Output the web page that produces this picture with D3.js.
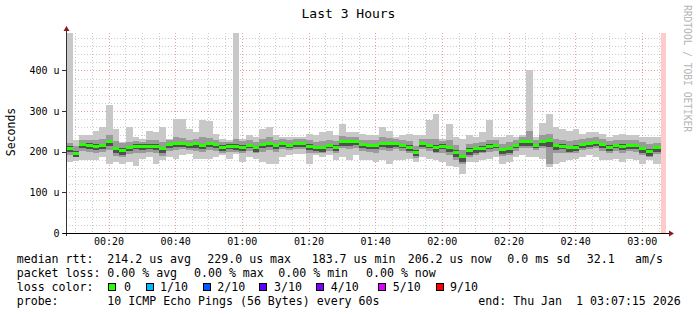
<!DOCTYPE html>
<html><head><meta charset="utf-8">
<script src="https://cdn.jsdelivr.net/npm/d3@7"></script>
<style>
html,body{margin:0;padding:0;background:#fff}
svg{display:block}
text{font-family:"DejaVu Sans Mono",monospace}
</style>
</head><body>
<svg id="chart" width="697" height="315"></svg>
<script>
// ---- data (microseconds), one value per 2-minute step starting 00:07:15 ----
const median = [209,195,217,216,213,216,224,207,203,210, 214,213,214,214,207,217,220,220,218,219,
  216,220,217,211,214,213,211,216,210,217, 221,216,220,216,220,220,214,210,210,216,
  211,224,224,224,217,216,216,220,220,220, 216,211,199,220,216,210,214,210,199,187,
  203,207,209,214,216,205,207,216,224,224, 216,226,228,216,214,210,211,218,220,222,
  217,211,216,214,216,216,207,200,210];
const pingMax = [492,228,240,240,252,261,314,257,224,261, 236,232,252,248,261,232,280,280,257,248,
  277,275,244,232,228,492,232,240,236,257, 261,240,236,236,236,236,244,240,248,252,
  240,269,248,248,244,240,240,261,252,236, 240,244,240,240,277,293,232,269,236,232,
  240,236,248,277,236,236,240,236,240,401, 236,270,293,261,257,252,257,244,248,248,
  244,236,240,244,240,240,236,236,236];
const pingMin = [175,178,179,179,179,187,170,175,170,175, 166,183,187,170,179,187,183,191,195,183,
  183,183,187,191,183,195,175,187,183,175, 170,170,187,191,195,195,170,191,187,191,
  179,187,179,191,179,179,175,179,170,179, 179,183,175,187,183,179,175,166,162,146,
  175,175,179,183,187,170,175,187,191,187, 187,183,162,170,175,179,183,187,191,187,
  179,179,183,175,183,179,170,179,170];
const midHi = [222,214,228,230,228,232,240,226,221,225, 226,224,230,228,224,228,236,234,230,232,
  236,234,230,224,224,232,226,230,224,232, 236,230,232,230,232,232,228,224,226,230,
  226,238,236,236,230,228,228,236,234,232, 230,226,214,232,232,232,226,228,216,204,
  220,222,224,228,228,220,224,230,236,250, 228,240,244,232,230,226,228,232,234,236,
  232,226,230,228,230,230,224,218,222];
const midLo = [192,186,202,200,198,200,204,190,186,194, 196,198,200,196,190,202,204,206,204,202,
  200,204,202,198,200,200,196,202,196,200, 204,200,206,204,206,206,198,198,196,202,
  196,208,206,208,202,200,198,204,202,206, 202,198,184,206,202,196,198,192,180,170,
  188,192,196,200,202,190,192,202,208,208, 204,208,170,196,198,196,198,204,206,208,
  202,198,202,198,202,200,192,188,194];
const darkHi = [213,201,221,221,218,220,229,212,208,214, 218,218,218,218,212,221,224,224,222,223,
  220,224,221,216,218,218,216,220,215,221, 225,220,224,220,224,224,218,215,215,220,
  216,228,228,228,221,220,220,224,225,224, 220,216,205,224,220,216,218,215,205,193,
  208,212,214,218,220,210,212,220,228,229, 220,230,232,220,218,215,216,222,224,226,
  221,216,220,218,220,220,212,206,215];
const darkLo = [200,186,208,206,204,206,214,196,192,202, 206,204,206,204,198,208,212,212,210,210,
  206,212,208,202,206,204,202,208,200,208, 212,206,212,208,212,212,204,202,200,208,
  202,214,214,216,208,206,206,212,210,212, 208,202,190,212,208,200,206,200,188,174,
  192,198,200,206,208,194,198,208,214,214, 210,214,212,204,206,200,202,210,212,214,
  208,202,208,204,206,206,196,190,200];

const yTickValues = [0,100,200,300,400];
const yTickLabels = ["0","100 u","200 u","300 u","400 u"];
const lossLabels = ["0","1/10","2/10","3/10","4/10","5/10","9/10"];
const lossColors = ["#26ff00","#00b8ff","#0059ff","#5e00ff","#7e00ff","#dd00ff","#ff0000"];

const legendRows = [
  [["median rtt:",16.7],["214.2 us avg",107.3],["229.0 us max",207.3],["183.7 us min",311.7],["206.2 us now",407.7],["0.0 ms sd",507.3],["32.1",586.7],["am/s",635]],
  [["packet loss:",16.7],["0.00 % avg",107.3],["0.00 % max",194],["0.00 % min",278.3],["0.00 % now",366]],
  [["loss color:",16.7]],
  [["probe:",16.7],["10 ICMP Echo Pings (56 Bytes) every 60s",107.3],["end: Thu Jan  1 03:07:15 2026",478.3]]
];
const lossSwatchX = [108.3,145.7,202.7,259.3,316,377.7,435.7];
const lossTextX = [124,160,217.3,274,330.7,392.7,450];
const legendBaselines = [263,277,291,304.5];

// ---- layout ----
const L = 66, R = 666, T = 33, B = 233;
const tStart = new Date(Date.UTC(2026,0,1,0,7,15));
const tEnd = new Date(Date.UTC(2026,0,1,3,7,15));
const tUnknown = new Date(Date.UTC(2026,0,1,3,5,45));
const stepMs = 120000;

const x = d3.scaleUtc().domain([tStart,tEnd]).range([L,R]);
const y = d3.scaleLinear().domain([0,492]).range([B,T]).clamp(true);

const svg = d3.select("#chart");
svg.append("rect").attr("width",697).attr("height",315).attr("fill","#fff");

// grid
const g = svg.append("g").attr("shape-rendering","crispEdges");
const minorY = d3.range(20,481,20).filter(v=>v%100!==0);
const majorY = d3.range(100,481,100);
const vTicks = d3.utcMinute.every(5).range(tStart,tEnd).filter(d=>d>tStart);
const minorX = vTicks.filter(d=>d.getUTCMinutes()%20!==0);
const majorX = vTicks.filter(d=>d.getUTCMinutes()%20===0);
g.selectAll(".hm").data(minorY).join("line").attr("x1",L).attr("x2",R)
  .attr("y1",d=>Math.round(y(d))+0.5).attr("y2",d=>Math.round(y(d))+0.5)
  .attr("stroke","#cccccc").attr("stroke-dasharray","1,2");
g.selectAll(".vm").data(minorX).join("line").attr("y1",T).attr("y2",B)
  .attr("x1",d=>Math.round(x(d))+0.5).attr("x2",d=>Math.round(x(d))+0.5)
  .attr("stroke","#cccccc").attr("stroke-dasharray","1,2");
g.selectAll(".hM").data(majorY).join("line").attr("x1",L).attr("x2",R)
  .attr("y1",d=>Math.round(y(d))+0.5).attr("y2",d=>Math.round(y(d))+0.5)
  .attr("stroke","#e8a0a0").attr("stroke-dasharray","1,2");
g.selectAll(".vM").data(majorX).join("line").attr("y1",T).attr("y2",B)
  .attr("x1",d=>Math.round(x(d))+0.5).attr("x2",d=>Math.round(x(d))+0.5)
  .attr("stroke","#e8a0a0").attr("stroke-dasharray","1,2");

// smoke
const n = median.length;
const colStart = i => new Date(tStart.getTime()+i*stepMs);
const colEnd = i => i===n-1 ? tUnknown : new Date(tStart.getTime()+(i+1)*stepMs);
const sm = svg.append("g").attr("shape-rendering","crispEdges");
function band(lo,hi,color){
  sm.append("g").selectAll("rect").data(d3.range(n)).join("rect")
    .attr("x",i=>x(colStart(i))).attr("width",i=>x(colEnd(i))-x(colStart(i)))
    .attr("y",i=>y(hi[i])).attr("height",i=>y(lo[i])-y(hi[i]))
    .attr("fill",color);
}
band(pingMin,pingMax,"#c8c8c8");
band(midLo,midHi,"#9a9a9a");
band(darkLo,darkHi,"#505050");
// median
sm.append("g").selectAll("rect").data(d3.range(n)).join("rect")
  .attr("x",i=>x(colStart(i))).attr("width",i=>x(colEnd(i))-x(colStart(i)))
  .attr("y",i=>y(median[i])-1.5).attr("height",3)
  .attr("fill",lossColors[0]);

// unknown region
svg.append("rect").attr("x",x(tUnknown)).attr("width",x(tEnd)-x(tUnknown))
  .attr("y",T).attr("height",B-T).attr("fill","#ffcaca");

// axes
const yAxis = d3.axisLeft(y).tickValues(yTickValues)
  .tickFormat((d,i)=>yTickLabels[i]).tickSize(4).tickPadding(2.5);
const ya = svg.append("g").attr("transform",`translate(${L},0)`).call(yAxis);
ya.select(".domain").remove();
ya.selectAll("line").attr("stroke","#333").attr("shape-rendering","crispEdges");
ya.selectAll("text").attr("font-size","10px").attr("fill","#000").attr("font-family","DejaVu Sans Mono");

const xAxis = d3.axisBottom(x).tickValues(majorX)
  .tickFormat(d3.utcFormat("%H:%M")).tickSize(0).tickPadding(5);
const xa = svg.append("g").attr("transform",`translate(0,${B})`).call(xAxis);
xa.select(".domain").remove();
xa.selectAll("text").attr("font-size","10px").attr("fill","#000").attr("font-family","DejaVu Sans Mono");

svg.append("line").attr("x1",L+0.5).attr("x2",L+0.5).attr("y1",B+3).attr("y2",T-4)
  .attr("stroke","#333");
svg.append("line").attr("x1",L-3).attr("x2",R+5).attr("y1",B+0.5).attr("y2",B+0.5)
  .attr("stroke","#000");
svg.append("path").attr("d",`M${L+0.5},${T-7} L${L-2.5},${T-2} L${L+3.5},${T-2} Z`).attr("fill","#8c1c1c");
svg.append("path").attr("d",`M${R+8},${B+0.5} L${R+3},${B-2.5} L${R+3},${B+3.5} Z`).attr("fill","#8c1c1c");

// title & labels
svg.append("text").attr("x",348.5).attr("y",18).attr("text-anchor","middle")
  .attr("font-size","13px").attr("fill","#000").text("Last 3 Hours");
svg.append("text").attr("transform","translate(15,132) rotate(-90)").attr("text-anchor","middle")
  .attr("font-size","11.5px").attr("fill","#000").text("Seconds");
svg.append("text").attr("transform","translate(684,5) rotate(90)").attr("text-anchor","start")
  .attr("font-size","9.6px").attr("fill","#b4b4b4").text("RRDTOOL / TOBI OETIKER");

// legend
const lg = svg.append("g").attr("font-size","11.6px").attr("fill","#000");
legendRows.forEach((row,ri)=>{
  row.forEach(([t,xx])=>{
    lg.append("text").attr("x",xx).attr("y",legendBaselines[ri]).attr("xml:space","preserve")
      .style("white-space","pre").text(t);
  });
});
lossLabels.forEach((lab,i)=>{
  lg.append("rect").attr("x",lossSwatchX[i]+0.5).attr("y",283.5).attr("width",7).attr("height",7)
    .attr("fill",lossColors[i]).attr("stroke","#000").attr("shape-rendering","crispEdges");
  lg.append("text").attr("x",lossTextX[i]).attr("y",legendBaselines[2]).text(lab);
});
</script>
</body></html>
